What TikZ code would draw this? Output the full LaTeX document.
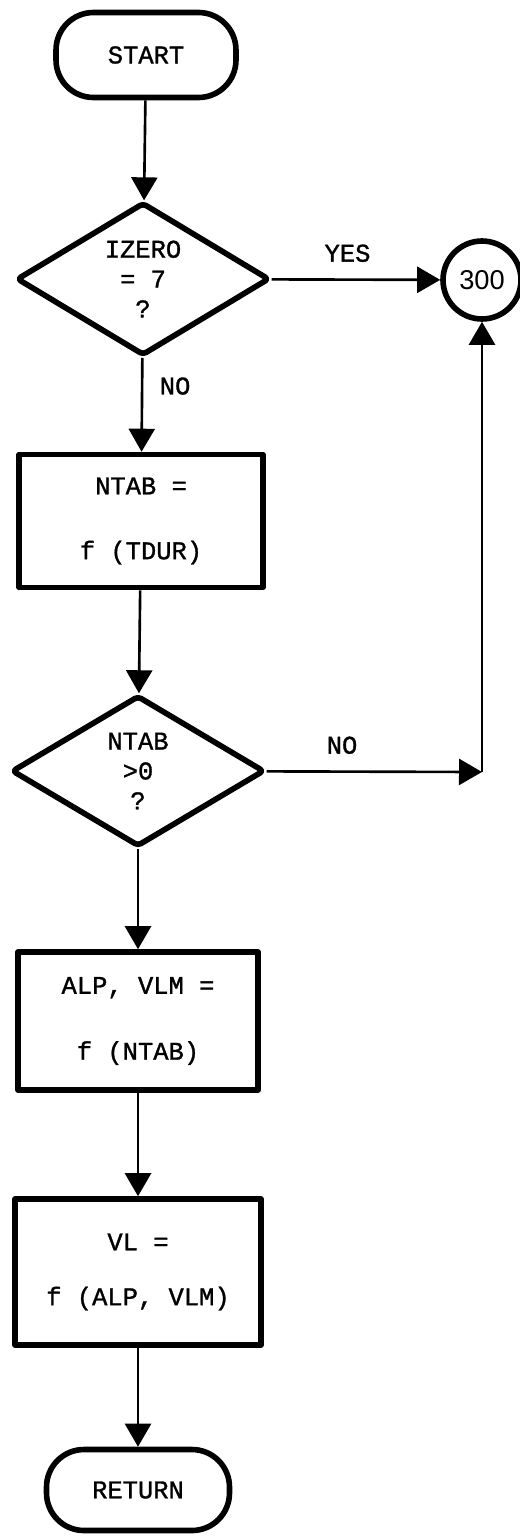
\documentclass[tikz,border=0pt]{standalone}
\usepackage{fontspec}
\setmainfont{Liberation Mono}[FakeBold=1.2]
\newfontfamily\circlefont{Liberation Sans}
\usetikzlibrary{arrows.meta,shapes.geometric}

\begin{document}
\begin{tikzpicture}[x=0.02cm, y=-0.02cm, line join=round,
		>={Triangle[width=0.52cm, length=0.46cm]},
		font=\fontsize{14.5}{17}\selectfont,
		terminal/.style={draw, line width=3.2pt, rounded corners=0.75cm, minimum width=3.6cm, minimum height=1.7cm},
		decision/.style={draw, diamond, line width=3.2pt, rounded corners=2pt, aspect=1.64, inner sep=0pt, align=center, minimum width=5.06cm, minimum height=3.06cm},
		process/.style={draw, line width=3.2pt, align=center, inner sep=0pt},
		connector/.style={draw, circle, line width=3.2pt, minimum size=1.56cm, inner sep=0pt, font=\circlefont\fontsize{15.5}{17}\selectfont},
		flow/.style={->, line width=1.5pt}]
		
		% Page frame
		\useasboundingbox (0,0) rectangle (520,1538);
		
		% 1. Start terminal
		\node[terminal] (start) at (146,55) {START};
		
		% 2. First test: IZERO = 7 ?
		\node[decision] (izero) at (143,279) {IZERO\\= 7\\?};
		
		% 3. Connector 300
		\node[connector] (c300) at (482,280) {300};
		
		% 4. Table index box
		\node[process, minimum width=4.88cm, minimum height=2.66cm] (ntab) at (141,521) {NTAB =\\[0.7cm]f (TDUR)};
		
		% 5. Second test: NTAB > 0 ?
		\node[decision, minimum height=3.02cm] (ntabpos) at (138,771) {NTAB\\>0\\?};
		\coordinate (turn) at (482,772);
		
		% 6. Table lookup boxes
		\node[process, minimum width=4.8cm, minimum height=2.76cm] (alpvlm) at (138,1021) {ALP, VLM =\\[0.72cm]f (NTAB)};
		\node[process, minimum width=4.92cm, minimum height=2.92cm] (vl) at (138,1272) {VL =\\[0.5cm]f (ALP, VLM)};
		
		% 7. Return terminal
		\node[terminal, minimum width=3.66cm, minimum height=1.62cm] (return) at (138,1490) {RETURN};
		
		% 8. Flow lines
		\draw[flow] (start) -- (izero);
		\draw[flow] (izero) -- (c300) node[pos=0.45, above=6pt] {YES};
		\draw[flow] (izero) -- (ntab) node[pos=0.3, right=6pt] {NO};
		\draw[flow] (ntab) -- (ntabpos);
		\draw[flow] (ntabpos) -- (turn) node[pos=0.35, above=6pt] {NO};
		\draw[flow] (turn) -- (c300);
		\draw[flow] (ntabpos) -- (alpvlm);
		\draw[flow] (alpvlm) -- (vl);
		\draw[flow] (vl) -- (return);
		
	\end{tikzpicture}
\end{document}
